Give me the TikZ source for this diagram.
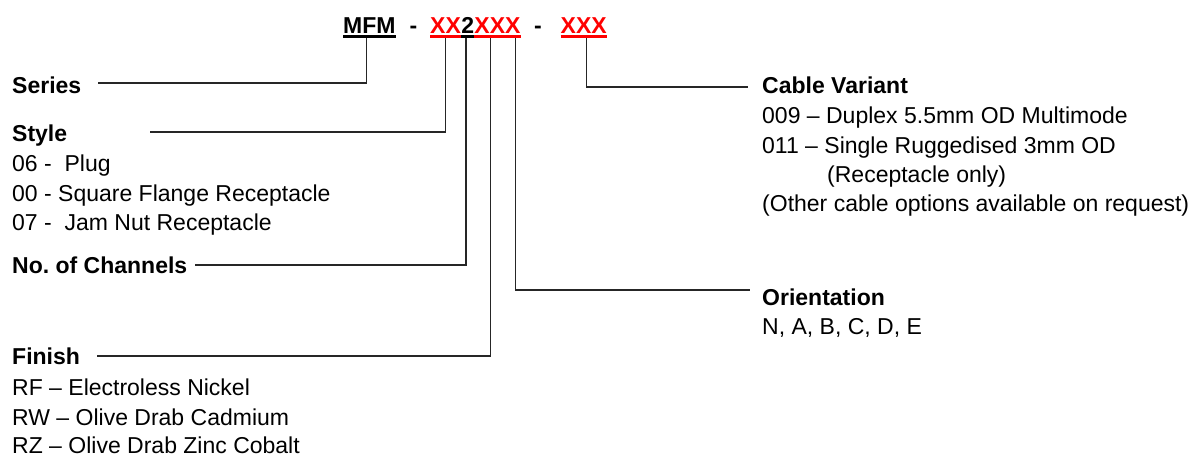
\documentclass[tikz,border=0pt]{standalone}
\usepackage{fontspec}
\setmainfont{Liberation Sans}
\frenchspacing
\begin{document}
\begin{tikzpicture}[x=1pt,y=-1pt,
  txt/.style={anchor=base west,inner sep=0pt,font=\fontsize{23}{29}\selectfont},
  hd/.style={txt,font=\fontsize{23}{29}\selectfont\bfseries},
  conn/.style={line width=1.4pt,black!85},
  ulk/.style={line width=2.4pt,black},
  ulr/.style={line width=2.4pt,red}]
\useasboundingbox (0,0) rectangle (1202,456);
% header
\node[hd] (mfm) at (343,33) {MFM};
\node[hd] (d1) at (409.5,33) {-};
\node[hd,text=red] (xa) at (430,33) {XX};
\node[hd] (two) at (xa.base east) {2};
\node[hd,text=red] (xb) at (two.base east) {XXX};
\node[hd] (d2) at (534,33) {-};
\node[hd,text=red] (xc) at (560.5,33) {XXX};
\draw[ulk] ([yshift=-3.5pt]mfm.base west) -- ([yshift=-3.5pt]mfm.base east);
\draw[ulr] ([yshift=-3.5pt]xa.base west) -- ([yshift=-3.5pt]xa.base east);
\draw[ulk] ([yshift=-3.5pt]two.base west) -- ([yshift=-3.5pt]two.base east);
\draw[ulr] ([yshift=-3.5pt]xb.base west) -- ([yshift=-3.5pt]xb.base east);
\draw[ulr] ([yshift=-3.5pt]xc.base west) -- ([yshift=-3.5pt]xc.base east);
% left labels
\node[hd] (series) at (12,93) {Series};
\node[hd] (style) at (12,141) {Style};
\node[txt] (s1) at (12,171) {06 -~~Plug};
\node[txt] (s2) at (12,201) {00 - Square Flange Receptacle};
\node[txt] (s3) at (12,230) {07 -~~Jam Nut Receptacle};
\node[hd] (chan) at (12,273) {No.\ of Channels};
\node[hd] (finish) at (12,364) {Finish};
\node[txt] (f1) at (12,395) {RF -- Electroless Nickel};
\node[txt] (f2) at (12,425) {RW -- Olive Drab Cadmium};
\node[txt] (f3) at (12,453) {RZ -- Olive Drab Zinc Cobalt};
% right labels
\node[hd] (cable) at (762,93) {Cable Variant};
\node[txt] (c1) at (762,123) {009 -- Duplex 5.5mm OD Multimode};
\node[txt] (c2) at (762,153) {011 -- Single Ruggedised 3mm OD};
\node[txt] (c3) at (827,182) {(Receptacle only)};
\node[txt] (c4) at (762,211) {(Other cable options available on request)};
\node[hd] (orient) at (762,305) {Orientation};
\node[txt] (o1) at (762,334) {N, A, B, C, D, E};
% connector endpoints
\coordinate (tS) at (366.5,38);
\coordinate (tY) at (445.5,38);
\coordinate (tC) at (466,38);
\coordinate (tF) at (490.5,38);
\coordinate (tO) at (515.5,38);
\coordinate (tV) at (586.5,38);
\coordinate (eS) at (98,83);
\coordinate (eY) at (150,132);
\coordinate (eC) at (195,265);
\coordinate (eF) at (97,356);
\coordinate (eO) at (750,290);
\coordinate (eV) at (748,87);
\draw[conn] (tS) |- (eS);
\draw[conn] (tY) |- (eY);
\draw[conn] (tC) |- (eC);
\draw[conn] (tF) |- (eF);
\draw[conn] (tO) |- (eO);
\draw[conn] (tV) |- (eV);
\end{tikzpicture}
\end{document}
